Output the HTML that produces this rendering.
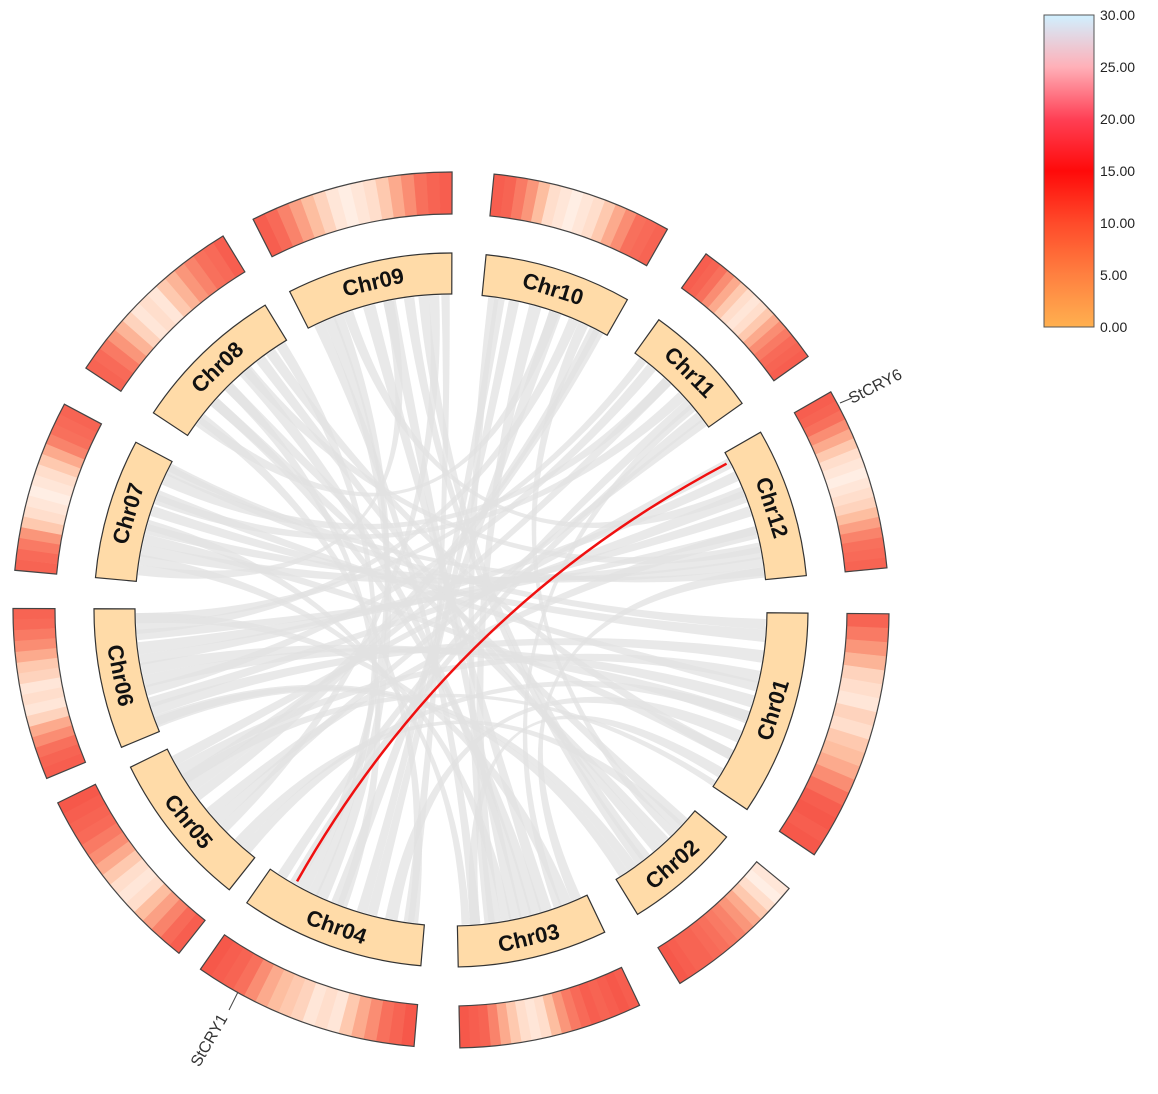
<!DOCTYPE html>
<html><head><meta charset="utf-8"><style>
html,body{margin:0;padding:0;background:#fff;}
svg{display:block;font-family:"Liberation Sans",Arial,sans-serif;}
</style></head><body>
<svg id="chart" width="1158" height="1094" viewBox="0 0 1158 1094" xmlns="http://www.w3.org/2000/svg">
<defs>
<linearGradient id="cbar" x1="0" y1="1" x2="0" y2="0">
<stop offset="0" stop-color="#FFB04F"/><stop offset="0.1667" stop-color="#FF8040"/>
<stop offset="0.3333" stop-color="#FF4A2A"/><stop offset="0.5" stop-color="#FF0A0A"/>
<stop offset="0.6667" stop-color="#FF4055"/><stop offset="0.8333" stop-color="#FFB0B8"/>
<stop offset="1" stop-color="#D0F0FF"/>
</linearGradient>
</defs>
<g id="links"></g>
<g id="heat"></g>
<g id="chroms"></g>
<g id="hl"></g>
<g id="legend">
<rect x="1044" y="15" width="50" height="312" fill="url(#cbar)" stroke="#555" stroke-width="1"/>
</g>
<g id="genes">
<line x1="840" y1="403" x2="852" y2="398" stroke="#444" stroke-width="1"/>
<text x="852" y="404" font-size="16" fill="#333" transform="rotate(-27 852 404)">StCRY6</text>
<line x1="238" y1="992" x2="229" y2="1010" stroke="#444" stroke-width="1"/>
<text x="228" y="1018" font-size="16" fill="#333" text-anchor="end" transform="rotate(-60 228 1018)">StCRY1</text>
</g>
</svg>
<script>
const chromNames=['Chr01','Chr02','Chr03','Chr04','Chr05','Chr06','Chr07','Chr08','Chr09','Chr10','Chr11','Chr12'];
const chromLengths=[88,50,64,79,67,60,60,66,71,63,50,64];
const heatValues=[
[14,17,20,23,26,27,28,26,27,25,24,22,19,16,13,12,13,12],
[28,29,27,25,22,20,18,17,16,15,14,14,13,12],
[13,12,13,14,13,15,17,20,24,27,28,27,25,22,18,14,13,12],
[12,14,16,19,22,25,28,27,28,26,25,24,22,19,16,14,13,12],
[13,15,18,21,24,27,28,27,25,22,19,17,15,14,13,12],
[13,14,16,19,22,26,28,27,28,26,25,22,19,17,15,14],
[14,15,17,20,25,27,28,29,28,27,25,22,18,16,15,14],
[14,15,17,20,23,26,28,27,28,25,23,20,18,16,15,13],
[13,15,18,21,24,26,28,29,28,27,25,22,19,16,14,13],
[13,14,17,20,24,27,28,29,28,27,25,22,19,16,15,14],
[13,14,16,19,22,25,27,28,27,25,22,19,17,15,14,13],
[13,14,16,19,22,25,27,28,29,28,27,26,24,21,18,16,15,14]
];
const legendTicks=['0.00','5.00','10.00','15.00','20.00','25.00','30.00'];
const links=[
[6,8,6,1,18,6],[6,22,6,1,40,6],[6,38,6,12,28,5],[7,12,6,12,48,6],[7,32,5,1,8,6],
[7,48,6,11,18,5],[8,18,5,2,18,5],[8,38,6,3,28,6],[8,54,5,1,68,5],[9,8,6,4,48,6],
[9,28,6,3,18,6],[9,48,5,2,33,5],[9,60,5,5,18,5],[10,6,5,4,28,5],[10,23,6,3,43,6],
[10,43,5,6,48,5],[10,54,5,5,43,5],[11,8,5,6,18,5],[11,28,5,7,38,5],[11,41,5,4,63,5],
[12,10,5,6,33,5],[12,38,6,5,28,5],[12,53,5,7,23,5],[1,28,6,5,53,5],[1,58,6,4,13,6],
[1,78,5,3,53,5],[2,8,5,5,8,5],[2,38,5,6,3,5],[3,8,6,6,53,5],[3,38,5,7,8,5],
[4,3,5,8,8,5],[4,38,5,8,28,5],[5,3,5,1,48,5],[5,58,5,12,3,5],[6,53,5,11,3,4],
[7,3,5,9,38,5],[8,6,5,10,33,5],[9,18,5,12,18,5],[2,23,5,8,48,5],[3,53,5,9,3,5],
[4,23,5,10,13,5],[4,70,5,11,33,5],[5,38,5,10,56,5],[1,3,5,7,53,5],[12,58,5,3,3,5],
[6,2,5,2,43,5],[7,25,5,3,58,4],[8,60,5,4,53,5],
[1,48,6,6,28,6],[1,68,5,7,18,5],[12,20,6,6,12,5],[12,46,5,8,40,5],[11,18,5,5,48,5],
[10,33,6,4,40,6],[9,38,6,3,33,6],[9,66,4,4,5,5],[8,28,5,2,5,5],[7,40,5,1,33,5],
[6,45,5,12,38,4],[5,23,5,11,45,4],[5,48,5,1,85,3],[3,23,6,8,18,5],[3,46,5,10,3,5],
[2,30,5,9,55,5],[4,58,5,9,13,5],[10,48,5,2,13,4],[11,36,4,3,13,4],[7,55,4,12,58,4]
];
const hlLink=[12,5,4,65];

const cx=451, cy=610, startAng=0.5, scale=0.3804;
const gapsAfter=[5.5,6,6,3.5,3.5,5,5.5,4.5,5.5,6,5.5,5];
const starts=[];{let a=startAng;chromLengths.forEach((L,i)=>{starts.push(a);a+=L*scale+gapsAfter[i];});}
function ang(c,p){return starts[c-1]+p*scale;}
function pt(a,r){const t=a*Math.PI/180;return [cx+r*Math.cos(t),cy+r*Math.sin(t)];}
function f(v){return v.toFixed(2);}
function arcPath(a0,a1,r0,r1){
 const p0=pt(a0,r1),p1=pt(a1,r1),p2=pt(a1,r0),p3=pt(a0,r0),lg=(a1-a0)>180?1:0;
 return `M${f(p0[0])},${f(p0[1])}A${r1},${r1} 0 ${lg} 1 ${f(p1[0])},${f(p1[1])}L${f(p2[0])},${f(p2[1])}A${r0},${r0} 0 ${lg} 0 ${f(p3[0])},${f(p3[1])}Z`;
}
const stops=[[0,[245,80,70]],[12,[246,88,74]],[16,[248,112,92]],[20,[250,150,122]],[24,[253,190,160]],[27,[255,222,204]],[30,[255,246,240]]];
function col(v){for(let i=1;i<stops.length;i++){if(v<=stops[i][0]){const a=stops[i-1],b=stops[i],t=(v-a[0])/(b[0]-a[0]);return 'rgb('+a[1].map((x,k)=>Math.round(x+(b[1][k]-x)*t)).join(',')+')';}}return 'rgb(255,246,240)';}
const NS='http://www.w3.org/2000/svg';
function mk(tag,attrs,parent){const e=document.createElementNS(NS,tag);for(const k in attrs)e.setAttribute(k,attrs[k]);parent.appendChild(e);return e;}

const rL=315;
const gL=document.getElementById('links');
links.forEach(l=>{
 const a0=ang(l[0],l[1]),a1=ang(l[0],l[1]+l[2]),b0=ang(l[3],l[4]),b1=ang(l[3],l[4]+l[5]);
 const p0=pt(a0,rL),p1=pt(a1,rL),q0=pt(b0,rL),q1=pt(b1,rL);
 const d=`M${f(p0[0])},${f(p0[1])}A${rL},${rL} 0 0 1 ${f(p1[0])},${f(p1[1])}Q${cx},${cy} ${f(q0[0])},${f(q0[1])}A${rL},${rL} 0 0 1 ${f(q1[0])},${f(q1[1])}Q${cx},${cy} ${f(p0[0])},${f(p0[1])}Z`;
 const e=mk('path',{d:d,fill:'#e2e2e2','fill-opacity':'0.75',stroke:'none'},gL);
 
 
});

const gH=document.getElementById('heat');
const gC=document.getElementById('chroms');
chromNames.forEach((n,i)=>{
 const L=chromLengths[i],a0=ang(i+1,0),a1=ang(i+1,L);
 const vals=heatValues[i],step=L/vals.length;
 vals.forEach((v,j)=>{
  const e=mk('path',{d:arcPath(ang(i+1,j*step),ang(i+1,(j+1)*step)+0.05,396,438),fill:col(v),stroke:'none'},gH);
  
  
 });
 const o=mk('path',{d:arcPath(a0,a1,396,438),fill:'none',stroke:'#444','stroke-width':'1.2'},gH);
 
 
 const b=mk('path',{d:arcPath(a0,a1,316,357),fill:'#FFDBA8',stroke:'#333','stroke-width':'1.2'},gC);
 
 
 const m=(a0+a1)/2,p=pt(m,337);
 const nm=((m%360)+360)%360;
 const rot=nm<180?nm-90:nm+90;
 const t=mk('text',{x:f(p[0]),y:f(p[1]),'font-size':'22','font-weight':'bold',fill:'#111','text-anchor':'middle','dominant-baseline':'central',transform:`rotate(${f(rot)} ${f(p[0])} ${f(p[1])})`},gC);
 t.textContent=n;
 
 
});

const a=ang(hlLink[0],hlLink[1]),b=ang(hlLink[2],hlLink[3]);
const pa=pt(a,312),pb=pt(b,312);
const hp=mk('path',{d:`M${f(pa[0])},${f(pa[1])}Q${cx},${cy} ${f(pb[0])},${f(pb[1])}`,fill:'none',stroke:'#F01010','stroke-width':'2.5'},document.getElementById('hl'));



const gLeg=document.getElementById('legend');
legendTicks.forEach((tk,i)=>{
 const y=327-i*52;
 const t=mk('text',{x:'1100',y:(y+5),'font-size':'14',fill:'#222'},gLeg);
 t.textContent=tk;
 
 
});
</script>
</body></html>
